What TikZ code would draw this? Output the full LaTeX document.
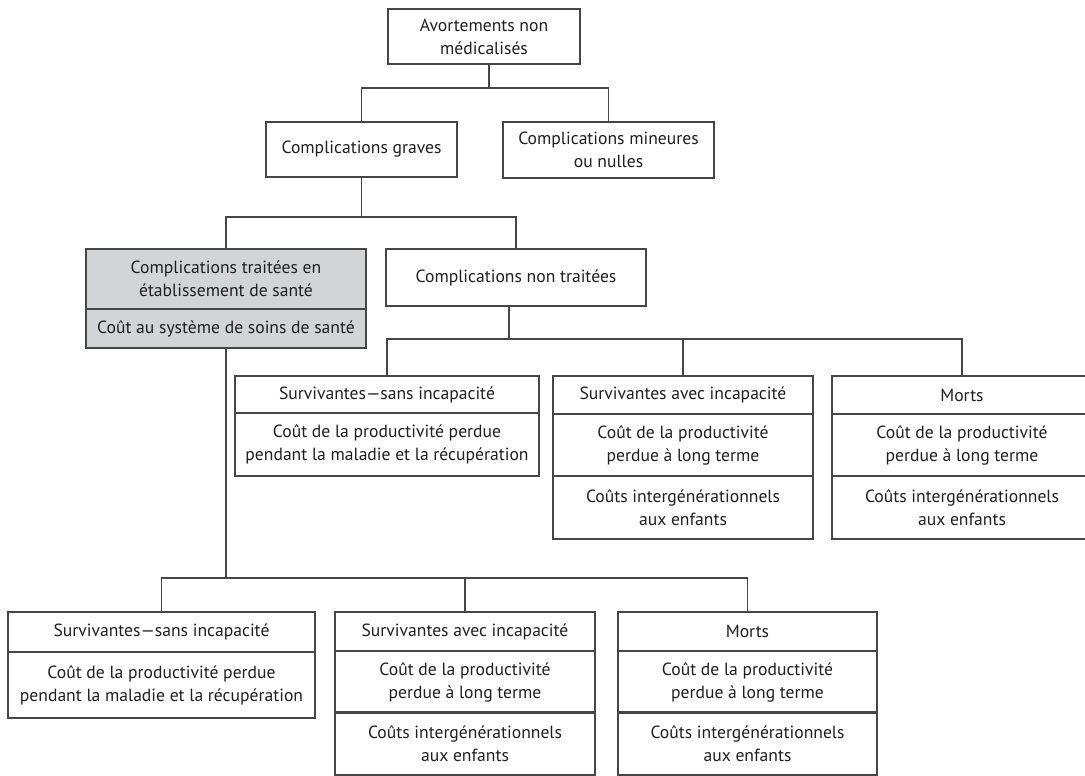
\documentclass[tikz,border=0pt]{standalone}
\usepackage{fontspec}
\setmainfont{PT Sans}
\definecolor{linec}{RGB}{70,70,70}
\definecolor{boxgray}{RGB}{211,212,214}
\tikzset{
  x=1pt, y=-1pt,
  box/.style={draw=linec, line width=1.2pt, rectangle, anchor=north west, inner sep=0pt, outer sep=0pt,
    align=center, font=\fontsize{17.6}{23}\selectfont, text=black!88},
  conn/.style={draw=linec, line width=1.2pt},
}
\begin{document}
\begin{tikzpicture}
\useasboundingbox (0,0) rectangle (1085,776);
\clip (0,0) rectangle (1085,776);
% level 1
\node[box, minimum width=192pt, minimum height=55pt] (top) at (388,9) {Avortements non\\médicalisés};
% level 2
\node[box, minimum width=191pt, minimum height=55pt] (graves) at (266,122) {Complications graves};
\node[box, minimum width=211pt, minimum height=56pt] (mineures) at (503,122) {Complications mineures\\ou nulles};
% level 2b
\node[box, fill=boxgray, minimum width=280pt, minimum height=60pt] (trait) at (86,249) {Complications traitées en\\établissement de santé};
\node[box, fill=boxgray, minimum width=280pt, minimum height=39pt] (traitcout) at (86,309) {Coût au système de soins de santé};
\node[box, minimum width=260pt, minimum height=57pt] (nontrait) at (386,249) {Complications non traitées};
% level 3 (non traitées)
\node[box, minimum width=304pt, minimum height=37pt] (sansA) at (235,376) {Survivantes—sans incapacité};
\node[box, minimum width=304pt, minimum height=63pt] (sansAc) at (235,413) {Coût de la productivité perdue\\pendant la maladie et la récupération};
\node[box, minimum width=260pt, minimum height=38pt] (avecA) at (553,376) {Survivantes avec incapacité};
\node[box, minimum width=260pt, minimum height=62pt] (avecAc) at (553,414) {Coût de la productivité\\perdue à long terme};
\node[box, minimum width=260pt, minimum height=63pt] (avecAi) at (553,476) {Coûts intergénérationnels\\aux enfants};
\node[box, minimum width=260pt, minimum height=38pt] (mortsA) at (832,376) {Morts};
\node[box, minimum width=260pt, minimum height=62pt] (mortsAc) at (832,414) {Coût de la productivité\\perdue à long terme};
\node[box, minimum width=260pt, minimum height=63pt] (mortsAi) at (832,476) {Coûts intergénérationnels\\aux enfants};
% level 4 (traitées)
\node[box, minimum width=307pt, minimum height=40pt] (sansB) at (8,612) {Survivantes—sans incapacité};
\node[box, minimum width=307pt, minimum height=66pt] (sansBc) at (8,652) {Coût de la productivité perdue\\pendant la maladie et la récupération};
\node[box, minimum width=260pt, minimum height=39pt] (avecB) at (335,612) {Survivantes avec incapacité};
\node[box, minimum width=260pt, minimum height=62pt] (avecBc) at (335,651) {Coût de la productivité\\perdue à long terme};
\node[box, minimum width=260pt, minimum height=63pt] (avecBi) at (335,712) {Coûts intergénérationnels\\aux enfants};
\node[box, minimum width=259pt, minimum height=39pt] (mortsB) at (618,612) {Morts};
\node[box, minimum width=259pt, minimum height=62pt] (mortsBc) at (618,651) {Coût de la productivité\\perdue à long terme};
\node[box, minimum width=259pt, minimum height=63pt] (mortsBi) at (618,712) {Coûts intergénérationnels\\aux enfants};
% connectors
\draw[conn] ([xshift=5pt]top.south) -- ++(0,24) -| (graves.north);
\draw[conn] ([xshift=5pt]top.south) -- ++(0,24) -| (mineures.north);
\draw[conn] (graves.south) -- ++(0,40) -| (trait.north);
\draw[conn] (graves.south) -- ++(0,40) -| (nontrait.north);
\draw[conn] ([xshift=-7pt]nontrait.south) -- ++(0,33) -| (sansA.north);
\draw[conn] ([xshift=-7pt]nontrait.south) -- ++(0,33) -| (avecA.north);
\draw[conn] ([xshift=-7pt]nontrait.south) -- ++(0,33) -| (mortsA.north);
\draw[conn] (traitcout.south) -- ++(0,230) -| (sansB.north);
\draw[conn] (traitcout.south) -- ++(0,230) -| (avecB.north);
\draw[conn] (traitcout.south) -- ++(0,230) -| (mortsB.north);
\end{tikzpicture}
\end{document}
